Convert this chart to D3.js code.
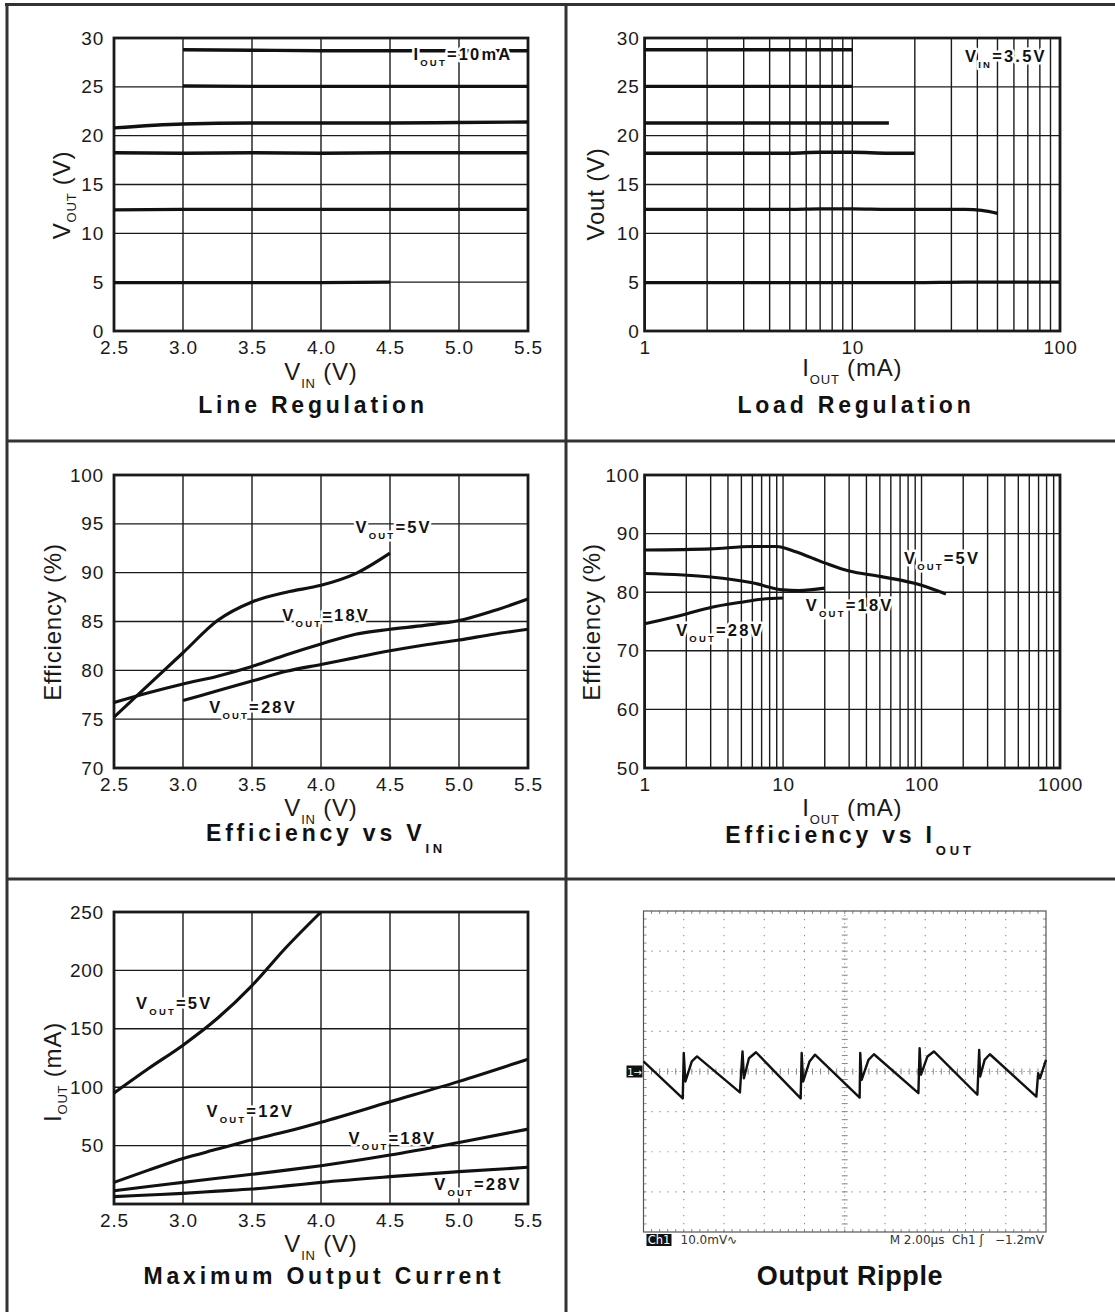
<!DOCTYPE html>
<html>
<head>
<meta charset="utf-8">
<script src="https://cdn.jsdelivr.net/npm/d3@7"></script>
<style>
  body { margin: 0; background: #fff; }
  svg { display: block; font-family: "Liberation Sans", Arial, sans-serif; }
</style>
</head>
<body>
<svg id="chart" width="1115" height="1312"></svg>
<script>
// ---- data ----

// Line regulation, IOUT = 10mA
var lineRegVin = [2.5, 3.0, 3.5, 4.0, 4.5, 5.0, 5.5];
var lineReg28V = [null, 28.8, 28.75, 28.7, 28.7, 28.7, 28.7];
var lineReg25V = [null, 25.1, 25.05, 25.05, 25.05, 25.05, 25.05];
var lineReg21V = [20.8, 21.2, 21.3, 21.3, 21.3, 21.35, 21.4];
var lineReg18V = [18.25, 18.2, 18.25, 18.2, 18.25, 18.25, 18.25];
var lineReg12V = [12.4, 12.45, 12.45, 12.45, 12.45, 12.45, 12.45];
var lineReg5V = [4.95, 4.95, 4.95, 4.95, 5.0, null, null];

// Load regulation, VIN = 3.5V
var loadRegIout = [1, 2, 5, 7, 10, 15, 20, 35, 42, 50, 100];
var loadReg28V = [28.8, 28.8, 28.8, 28.8, 28.8, null, null, null, null, null, null];
var loadReg25V = [25.05, 25.05, 25.05, 25.05, 25.05, null, null, null, null, null, null];
var loadReg21V = [21.3, 21.3, 21.3, 21.3, 21.3, 21.3, null, null, null, null, null];
var loadReg18V = [18.2, 18.2, 18.2, 18.3, 18.3, 18.2, 18.2, null, null, null, null];
var loadReg12V = [12.45, 12.45, 12.45, 12.5, 12.5, 12.45, 12.45, 12.45, 12.35, 12.05, null];
var loadReg5V = [4.95, 4.95, 4.95, 4.95, 4.95, 4.95, 4.95, 5.0, 5.0, 5.0, 5.0];

// Efficiency vs VIN
var effVin = [2.5, 2.75, 3.0, 3.25, 3.5, 3.75, 4.0, 4.25, 4.5, 4.75, 5.0, 5.25, 5.5];
var effVin5V = [75.2, 78.5, 81.8, 85.1, 87.0, 88.0, 88.7, 89.9, 92.0, null, null, null, null];
var effVin18V = [76.7, 77.7, 78.6, 79.4, 80.4, 81.6, 82.7, 83.7, 84.2, 84.6, 85.1, 86.1, 87.3];
var effVin28V = [null, null, 76.9, 77.9, 78.9, 79.9, 80.6, 81.3, 82.0, 82.6, 83.1, 83.7, 84.2];

// Efficiency vs IOUT
var effIout5VX = [1, 3, 6, 9, 12, 20, 30, 50, 100, 150];
var effIout5V = [87.2, 87.4, 87.8, 87.8, 87.0, 85.0, 83.6, 82.7, 81.2, 79.7];
var effIout18VX = [1, 3, 6, 10, 13, 20];
var effIout18V = [83.2, 82.6, 81.6, 80.4, 80.3, 80.7];
var effIout28VX = [1, 2, 3, 5, 7, 10];
var effIout28V = [74.6, 76.3, 77.4, 78.3, 78.8, 79.0];

// Maximum output current
var maxIVin = [2.5, 2.75, 3.0, 3.25, 3.5, 3.75, 4.0, 4.5, 5.0, 5.5];
var maxI5V = [95, 116, 136, 159, 187, 220, 250, null, null, null];
var maxI12V = [18.5, 29, 39, 47, 55, 62, 70, 87.5, 105, 124];
var maxI18V = [11.4, 15, 18.5, 22, 25.4, 29, 32.8, 41.9, 52.7, 64.1];
var maxI28V = [6.3, 7.7, 9.1, 11, 12.8, 15.5, 18.5, 23.4, 27.7, 31.4];

// Output ripple trace (time in us, voltage in mV)
var rippleT = [0, 1.95, 2.0, 2.08, 2.4, 2.66,
  4.79, 4.92, 4.99, 5.24, 5.59,
  7.81, 7.86, 7.93, 8.25, 8.52,
  10.74, 10.77, 10.84, 11.18, 11.45,
  13.66, 13.72, 13.79, 14.11, 14.43,
  16.59, 16.68, 16.73, 16.95, 17.21,
  19.52, 19.61, 19.7, 20];
var rippleMv = [2.5, -6.7, 4.6, -2.5, 2.5, 3.75,
  -5.2, 5.0, -1.7, 3.3, 4.8,
  -6.7, 4.6, -2.5, 2.5, 4.2,
  -6.5, 4.6, -2.1, 2.9, 4.3,
  -5.4, 5.8, -0.8, 3.75, 5.0,
  -5.8, 5.4, -1.25, 2.9, 4.3,
  -6.25, -0.4, -1.7, 2.9];

var vinTicks = [2.5, 3.0, 3.5, 4.0, 4.5, 5.0, 5.5];

var svg = d3.select('#chart');
var ink = '#1a1a1a';

// ---- page frame ----
function rule(x1, y1, x2, y2) {
  svg.append('line').attr('x1', x1).attr('y1', y1).attr('x2', x2).attr('y2', y2)
    .attr('stroke', '#333').attr('stroke-width', 3);
}
rule(5, 4.5, 1115, 4.5);
rule(7, 3, 7, 1312);
rule(566, 3, 566, 1312);
rule(7, 441, 1115, 441);
rule(7, 879, 1115, 879);

// text with subscripts: parts = [[str, isSub], ...]
function richText(sel, parts, size, subSize, drop, subWeight) {
  var down = 0;
  parts.forEach(function(p) {
    var t = sel.append('tspan').text(p[0]);
    if (p[1]) {
      t.attr('font-size', subSize).attr('dy', drop - down);
      if (subWeight) t.attr('font-weight', subWeight);
      down = drop;
    } else {
      t.attr('font-size', size).attr('dy', -down);
      down = 0;
    }
  });
  return sel;
}

function logGrid(maxDecade) {
  var out = [];
  for (var d = 1; d < maxDecade; d *= 10) {
    for (var k = 1; k < 10; k++) out.push(k * d);
  }
  out.push(maxDecade);
  return out;
}

function makePlot(box, cfg) {
  var x = cfg.log ? d3.scaleLog() : d3.scaleLinear();
  x.domain(cfg.xDomain).range([box.x0, box.x1]);
  var y = d3.scaleLinear().domain(cfg.yDomain).range([box.y1, box.y0]);
  var g = svg.append('g');

  g.selectAll('.vgrid').data(cfg.xGrid).enter().append('line')
    .attr('x1', function(d) { return x(d); }).attr('x2', function(d) { return x(d); })
    .attr('y1', box.y0).attr('y2', box.y1)
    .attr('stroke', ink).attr('stroke-width', 1.4);
  g.selectAll('.hgrid').data(cfg.yGrid).enter().append('line')
    .attr('y1', function(d) { return y(d); }).attr('y2', function(d) { return y(d); })
    .attr('x1', box.x0).attr('x2', box.x1)
    .attr('stroke', ink).attr('stroke-width', 1.4);
  g.append('rect').attr('x', box.x0).attr('y', box.y0)
    .attr('width', box.x1 - box.x0).attr('height', box.y1 - box.y0)
    .attr('fill', 'none').attr('stroke', ink).attr('stroke-width', 2.8);

  var xAxis = d3.axisBottom(x).tickValues(cfg.xTicks).tickSize(0).tickPadding(10)
    .tickFormat(cfg.xFormat);
  var yAxis = d3.axisLeft(y).tickValues(cfg.yTicks).tickSize(0).tickPadding(cfg.yPad)
    .tickFormat(d3.format('d'));
  [g.append('g').attr('transform', 'translate(0,' + box.y1 + ')').call(xAxis),
   g.append('g').attr('transform', 'translate(' + box.x0 + ',0)').call(yAxis)]
    .forEach(function(a) {
      a.select('.domain').remove();
      a.selectAll('text').attr('font-size', 19).attr('fill', ink)
        .attr('letter-spacing', 0.8).attr('font-family', '"Liberation Sans", Arial, sans-serif');
    });

  var line = d3.line()
    .defined(function(d) { return d[1] != null; })
    .x(function(d) { return x(d[0]); })
    .y(function(d) { return y(d[1]); })
    .curve(d3.curveMonotoneX);
  cfg.series.forEach(function(s) {
    g.append('path').datum(d3.zip(s.x, s.y)).attr('d', line)
      .attr('fill', 'none').attr('stroke', '#111').attr('stroke-width', cfg.lineWidth || 3.1)
      .attr('stroke-linecap', 'butt');
  });

  // labels inside the plot
  (cfg.labels || []).forEach(function(l) {
    var t = g.append('text').attr('x', x(l.at[0])).attr('y', y(l.at[1]))
      .attr('font-weight', 'bold').attr('letter-spacing', 2.2).attr('fill', '#111')
      .attr('stroke', '#fff').attr('stroke-width', 5).attr('paint-order', 'stroke')
      .attr('stroke-linejoin', 'round');
    richText(t, l.parts, 16.5, 9.5, 6);
  });

  // axis titles
  var cx = (box.x0 + box.x1) / 2;
  var xt = g.append('text').attr('x', cx).attr('y', box.y1 + cfg.xTitleY)
    .attr('text-anchor', 'middle').attr('fill', ink).attr('letter-spacing', 0.8);
  richText(xt, cfg.xTitle, 24, 13, 8);

  var yt = g.append('text')
    .attr('transform', 'translate(' + cfg.yTitleX + ',' + cfg.yTitleY + ') rotate(-90)')
    .attr('text-anchor', 'middle').attr('fill', ink).attr('letter-spacing', 0.8);
  richText(yt, cfg.yTitle, 24, 13, 6);

  var tt = g.append('text').attr('x', cfg.titleX).attr('y', cfg.titleY)
    .attr('text-anchor', 'middle').attr('font-weight', 'bold').attr('fill', '#111')
    .attr('letter-spacing', 3.8);
  richText(tt, cfg.title, 23, 13, 12);

  return { x: x, y: y, g: g };
}

function ser(xs, ys) { return { x: xs, y: ys }; }
var vinFmt = d3.format('.1f');
var vout = function(v) { return [['V', 0], ['OUT', 1], ['=' + v, 0]]; };

// ---- Line Regulation ----
makePlot({ x0: 114, x1: 528, y0: 38, y1: 331 }, {
  xDomain: [2.5, 5.5], yDomain: [0, 30],
  xGrid: vinTicks, yGrid: [5, 10, 15, 20, 25],
  xTicks: vinTicks, yTicks: [0, 5, 10, 15, 20, 25, 30], xFormat: vinFmt, yPad: 10,
  series: [ser(lineRegVin, lineReg28V), ser(lineRegVin, lineReg25V), ser(lineRegVin, lineReg21V),
    ser(lineRegVin, lineReg18V), ser(lineRegVin, lineReg12V), ser(lineRegVin, lineReg5V)],
  lineWidth: 3.4,
  labels: [{ at: [4.67, 27.75], parts: [['I', 0], ['OUT', 1], ['=10mA', 0]] }],
  xTitle: [['V', 0], ['IN', 1], [' (V)', 0]], xTitleY: 49,
  yTitle: [['V', 0], ['OUT', 1], [' (V)', 0]], yTitleX: 70, yTitleY: 195,
  title: [['Line Regulation', 0]], titleX: 313, titleY: 413
});

// ---- Load Regulation ----
makePlot({ x0: 644.6, x1: 1060, y0: 38, y1: 331 }, {
  log: true, xDomain: [1, 100], yDomain: [0, 30],
  xGrid: logGrid(100), yGrid: [5, 10, 15, 20, 25],
  xTicks: [1, 10, 100], yTicks: [0, 5, 10, 15, 20, 25, 30], xFormat: d3.format('d'), yPad: 5,
  series: [ser(loadRegIout, loadReg28V), ser(loadRegIout, loadReg25V), ser(loadRegIout, loadReg21V),
    ser(loadRegIout, loadReg18V), ser(loadRegIout, loadReg12V), ser(loadRegIout, loadReg5V)],
  lineWidth: 3.4,
  labels: [{ at: [34.9, 27.5], parts: [['V', 0], ['IN', 1], ['=3.5V', 0]] }],
  xTitle: [['I', 0], ['OUT', 1], [' (mA)', 0]], xTitleY: 45,
  yTitle: [['Vout (V)', 0]], yTitleX: 604, yTitleY: 194,
  title: [['Load Regulation', 0]], titleX: 856, titleY: 413
});

// ---- Efficiency vs VIN ----
makePlot({ x0: 114, x1: 528, y0: 475, y1: 768 }, {
  xDomain: [2.5, 5.5], yDomain: [70, 100],
  xGrid: vinTicks, yGrid: [75, 80, 85, 90, 95],
  xTicks: vinTicks, yTicks: [70, 75, 80, 85, 90, 95, 100], xFormat: vinFmt, yPad: 10,
  series: [ser(effVin, effVin5V), ser(effVin, effVin18V), ser(effVin, effVin28V)],
  labels: [{ at: [4.25, 94.1], parts: vout('5V') },
    { at: [3.72, 85.06], parts: vout('18V') },
    { at: [3.19, 75.6], parts: vout('28V') }],
  xTitle: [['V', 0], ['IN', 1], [' (V)', 0]], xTitleY: 48,
  yTitle: [['Efficiency (%)', 0]], yTitleX: 61, yTitleY: 622,
  title: [['Efficiency vs V', 0], ['IN', 1]], titleX: 326, titleY: 841
});

// ---- Efficiency vs IOUT ----
makePlot({ x0: 644.6, x1: 1060, y0: 475, y1: 768 }, {
  log: true, xDomain: [1, 1000], yDomain: [50, 100],
  xGrid: logGrid(1000), yGrid: [60, 70, 80, 90],
  xTicks: [1, 10, 100, 1000], yTicks: [50, 60, 70, 80, 90, 100], xFormat: d3.format('d'), yPad: 5,
  series: [ser(effIout5VX, effIout5V), ser(effIout18VX, effIout18V), ser(effIout28VX, effIout28V)],
  labels: [{ at: [74.6, 84.8], parts: vout('5V') },
    { at: [14.6, 76.8], parts: vout('18V') },
    { at: [1.69, 72.5], parts: vout('28V') }],
  xTitle: [['I', 0], ['OUT', 1], [' (mA)', 0]], xTitleY: 48,
  yTitle: [['Efficiency (%)', 0]], yTitleX: 600, yTitleY: 622,
  title: [['Efficiency vs I', 0], ['OUT', 1]], titleX: 850, titleY: 843
});

// ---- Maximum Output Current ----
makePlot({ x0: 114, x1: 528, y0: 912, y1: 1204 }, {
  xDomain: [2.5, 5.5], yDomain: [0, 250],
  xGrid: vinTicks, yGrid: [50, 100, 150, 200],
  xTicks: vinTicks, yTicks: [50, 100, 150, 200, 250], xFormat: vinFmt, yPad: 10,
  series: [ser(maxIVin, maxI5V), ser(maxIVin, maxI12V), ser(maxIVin, maxI18V), ser(maxIVin, maxI28V)],
  labels: [{ at: [2.66, 167], parts: vout('5V') },
    { at: [3.17, 74.5], parts: vout('12V') },
    { at: [4.2, 51.4], parts: vout('18V') },
    { at: [4.82, 12], parts: vout('28V') }],
  xTitle: [['V', 0], ['IN', 1], [' (V)', 0]], xTitleY: 48,
  yTitle: [['I', 0], ['OUT', 1], [' (mA)', 0]], yTitleX: 61, yTitleY: 1072,
  title: [['Maximum Output Current', 0]], titleX: 324, titleY: 1284
});

// ---- Output Ripple (scope capture) ----
(function() {
  var box = { x0: 643.5, x1: 1046, y0: 911, y1: 1232 };
  var x = d3.scaleLinear().domain([0, 20]).range([box.x0, box.x1]);
  var y = d3.scaleLinear().domain([-40, 40]).range([box.y1, box.y0]);
  var g = svg.append('g');
  var grey = '#8a8a8a';

  var divT = d3.range(2, 20, 2), divV = d3.range(-30, 40, 10);
  g.selectAll('.sv').data(divT.filter(function(d) { return d !== 10; })).enter().append('line')
    .attr('x1', x).attr('x2', x).attr('y1', box.y0).attr('y2', box.y1)
    .attr('stroke', grey).attr('stroke-width', 1.1).attr('stroke-dasharray', '1.2,6.8');
  g.selectAll('.sh').data(divV.filter(function(d) { return d !== 0; })).enter().append('line')
    .attr('y1', y).attr('y2', y).attr('x1', box.x0).attr('x2', box.x1)
    .attr('stroke', grey).attr('stroke-width', 1.1).attr('stroke-dasharray', '1.2,6.8');

  // centre cross with minor ticks
  g.append('line').attr('x1', x(10)).attr('x2', x(10)).attr('y1', box.y0).attr('y2', box.y1)
    .attr('stroke', grey).attr('stroke-width', 1).attr('stroke-dasharray', '1.2,2.8');
  g.append('line').attr('y1', y(0)).attr('y2', y(0)).attr('x1', box.x0).attr('x2', box.x1)
    .attr('stroke', grey).attr('stroke-width', 1).attr('stroke-dasharray', '1.2,2.8');
  var minorT = d3.range(0.4, 20, 0.4), minorV = d3.range(-38, 40, 2);
  g.selectAll('.mt').data(minorT).enter().append('line')
    .attr('x1', x).attr('x2', x).attr('y1', y(0) - 3).attr('y2', y(0) + 3)
    .attr('stroke', grey).attr('stroke-width', 1);
  g.selectAll('.mv').data(minorV).enter().append('line')
    .attr('y1', y).attr('y2', y).attr('x1', x(10) - 3).attr('x2', x(10) + 3)
    .attr('stroke', grey).attr('stroke-width', 1);
  // edge ticks
  g.selectAll('.et').data(minorT).enter().append('line')
    .attr('x1', x).attr('x2', x).attr('y1', box.y1 - 3).attr('y2', box.y1)
    .attr('stroke', grey).attr('stroke-width', 1);
  g.selectAll('.et2').data(minorT).enter().append('line')
    .attr('x1', x).attr('x2', x).attr('y1', box.y0).attr('y2', box.y0 + 3)
    .attr('stroke', grey).attr('stroke-width', 1);
  g.selectAll('.ev').data(minorV).enter().append('line')
    .attr('y1', y).attr('y2', y).attr('x1', box.x0).attr('x2', box.x0 + 3)
    .attr('stroke', grey).attr('stroke-width', 1);
  g.selectAll('.ev2').data(minorV).enter().append('line')
    .attr('y1', y).attr('y2', y).attr('x1', box.x1 - 3).attr('x2', box.x1)
    .attr('stroke', grey).attr('stroke-width', 1);

  g.append('rect').attr('x', box.x0).attr('y', box.y0)
    .attr('width', box.x1 - box.x0).attr('height', box.y1 - box.y0)
    .attr('fill', 'none').attr('stroke', '#555').attr('stroke-width', 1.2);

  var trace = d3.line().x(function(d) { return x(d[0]); }).y(function(d) { return y(d[1]); });
  g.append('path').datum(d3.zip(rippleT, rippleMv)).attr('d', trace)
    .attr('fill', 'none').attr('stroke', '#111').attr('stroke-width', 2.4)
    .attr('stroke-linejoin', 'round');

  // trigger level marker
  g.append('rect').attr('x', box.x0 - 17).attr('y', y(0) - 6).attr('width', 16).attr('height', 12)
    .attr('fill', '#111');
  g.append('text').attr('x', box.x0 - 9).attr('y', y(0) + 4).attr('text-anchor', 'middle')
    .attr('fill', '#fff').attr('font-size', 10).attr('font-family', 'DejaVu Sans').text('1\u2192');

  // scope readout
  var ry = box.y1 + 12;
  g.append('rect').attr('x', box.x0 + 3).attr('y', box.y1 + 2).attr('width', 25).attr('height', 12)
    .attr('fill', '#111');
  g.append('text').attr('x', box.x0 + 15.5).attr('y', ry).attr('text-anchor', 'middle')
    .attr('fill', '#fff').attr('font-size', 11.5).attr('font-family', 'DejaVu Sans').text('Ch1');
  g.append('text').attr('x', box.x0 + 37).attr('y', ry).attr('fill', '#333')
    .attr('font-size', 12).attr('font-family', 'DejaVu Sans').text('10.0mV\u223F');
  g.append('text').attr('x', box.x1 - 2).attr('y', ry).attr('text-anchor', 'end').attr('fill', '#333')
    .attr('font-size', 12).attr('font-family', 'DejaVu Sans')
    .attr('xml:space', 'preserve').text('M 2.00\u00B5s  Ch1 \u0283   \u22121.2mV');

  g.append('text').attr('x', 850).attr('y', 1285).attr('text-anchor', 'middle')
    .attr('font-weight', 'bold').attr('font-size', 27).attr('letter-spacing', 0.6)
    .attr('fill', '#111').text('Output Ripple');
})();
</script>
</body>
</html>
